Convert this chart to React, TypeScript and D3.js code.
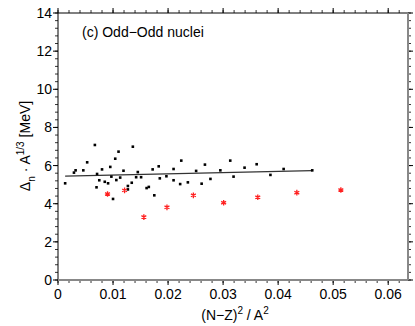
import React from 'react';
import { scaleLinear, range, symbol, symbolAsterisk } from 'd3';

// black points: (N-Z)^2/A^2 vs Delta_n * A^(1/3)
const blackX = [0.0013, 0.0029, 0.0032, 0.0046, 0.0053, 0.0067, 0.0071, 0.0070, 0.0075, 0.0080,
    0.0085, 0.0091, 0.0095, 0.0097, 0.0100, 0.0104, 0.0110, 0.0106, 0.0113, 0.0119,
    0.0127, 0.0127, 0.0134, 0.0136, 0.0142, 0.0145, 0.0151, 0.0161, 0.0165, 0.0172,
    0.0175, 0.0183, 0.0185, 0.0197, 0.0210, 0.0210, 0.0222, 0.0224, 0.0236, 0.0251,
    0.0261, 0.0267, 0.0277, 0.0295, 0.0313, 0.0319, 0.0339, 0.0361, 0.0386, 0.0410, 0.0462];
const blackY = [5.07, 5.63, 5.75, 5.75, 6.17, 7.08, 5.56, 4.86, 5.23, 5.80,
    5.15, 5.07, 5.93, 5.42, 4.25, 6.36, 6.73, 5.24, 5.37, 5.73,
    4.93, 4.75, 5.10, 6.99, 5.39, 5.66, 5.39, 4.82, 4.88, 5.80,
    4.44, 5.96, 5.33, 5.44, 5.82, 5.23, 5.03, 6.26, 5.12, 5.72,
    5.05, 6.05, 5.30, 5.75, 6.26, 5.42, 5.89, 6.07, 5.51, 5.82, 5.75];

// red asterisks
const redX = [0.0090, 0.0121, 0.0156, 0.0198, 0.0246, 0.0301, 0.0363, 0.0434, 0.0514];
const redY = [4.51, 4.70, 3.30, 3.81, 4.44, 4.05, 4.34, 4.58, 4.72];

// fitted line
const fitX = [0.0013, 0.0462];
const fitY = [5.45, 5.73];

const xTicks = [0, 0.01, 0.02, 0.03, 0.04, 0.05, 0.06];
const yTicks = [0, 2, 4, 6, 8, 10, 12, 14];

const W = 415, H = 326;
const m = { left: 58, right: 7, top: 13, bottom: 46 };
const font = 'Liberation Sans, Arial, Helvetica, sans-serif';

export default function App() {
    const x = scaleLinear().domain([0, 0.0636]).range([m.left, W - m.right]);
    const y = scaleLinear().domain([0, 14]).range([H - m.bottom, m.top]);
    const [x0, x1] = x.range();
    const [y0, y1] = y.range();

    const xMinor = range(0, 0.0637, 0.002);
    const yMinor = range(0, 14.01, 0.4);
    const star = symbol(symbolAsterisk, 22)();

    return (
        <svg width={W} height={H} style={{ position: 'absolute', left: 0, top: 0 }} fontFamily={font}>
            <rect x={0} y={0} width={W} height={H} fill="white" />

            {/* minor ticks */}
            {xMinor.map((t, i) => (
                <g key={'xm' + i}>
                    <line x1={x(t)} x2={x(t)} y1={y0} y2={y0 + 3} stroke="#000" strokeWidth={0.8} />
                    <line x1={x(t)} x2={x(t)} y1={y1} y2={y1 - 3} stroke="#000" strokeWidth={0.8} />
                </g>
            ))}
            {yMinor.map((t, i) => (
                <g key={'ym' + i}>
                    <line x1={x0} x2={x0 - 3} y1={y(t)} y2={y(t)} stroke="#000" strokeWidth={0.8} />
                    <line x1={x1} x2={x1 + 3} y1={y(t)} y2={y(t)} stroke="#000" strokeWidth={0.8} />
                </g>
            ))}
            {/* major ticks + labels */}
            {xTicks.map(t => (
                <g key={'x' + t}>
                    <line x1={x(t)} x2={x(t)} y1={y0} y2={y0 + 5} stroke="#000" />
                    <line x1={x(t)} x2={x(t)} y1={y1} y2={y1 - 5} stroke="#000" />
                    <text x={x(t)} y={y0 + 19} textAnchor="middle" fontSize={14}>{t === 0 ? '0' : t.toFixed(2)}</text>
                </g>
            ))}
            {yTicks.map(t => (
                <g key={'y' + t}>
                    <line x1={x0} x2={x0 - 5} y1={y(t)} y2={y(t)} stroke="#000" />
                    <line x1={x1} x2={x1 + 5} y1={y(t)} y2={y(t)} stroke="#000" />
                    <text x={x0 - 6} y={y(t) + 5} textAnchor="end" fontSize={14}>{t}</text>
                </g>
            ))}

            {/* frame */}
            <line x1={x0} x2={x1} y1={y1} y2={y1} stroke="#000" strokeWidth={1} />
            <line x1={x0} x2={x0} y1={y0} y2={y1} stroke="#000" strokeWidth={1} />
            <line x1={x0} x2={x1} y1={y0} y2={y0} stroke="#888" strokeWidth={2} />
            <line x1={x1} x2={x1} y1={y0} y2={y1} stroke="#888" strokeWidth={2} />

            {/* fit line */}
            <line x1={x(fitX[0])} y1={y(fitY[0])} x2={x(fitX[1])} y2={y(fitY[1])} stroke="#333" strokeWidth={1.2} />

            {/* data */}
            {blackX.map((v, i) => (
                <rect key={'b' + i} x={x(v) - 1.3} y={y(blackY[i]) - 1.3} width={2.6} height={2.6} fill="#000" />
            ))}
            {redX.map((v, i) => (
                <path key={'r' + i} d={star} transform={`translate(${x(v)},${y(redY[i])})`}
                    stroke="#ff2020" strokeWidth={1.3} fill="none" />
            ))}

            {/* title */}
            <text x={82} y={37} fontSize={14}>(c) Odd−Odd nuclei</text>

            {/* axis labels */}
            <text x={(x0 + x1) / 2 + 2} y={320} textAnchor="middle" fontSize={14}>
                (N−Z)<tspan dy={-6} fontSize={10}>2</tspan><tspan dy={6}> / A</tspan><tspan dy={-6} fontSize={10}>2</tspan>
            </text>
            <text transform={`translate(30,146) rotate(-90)`} textAnchor="middle" fontSize={14}>
                Δ<tspan dy={5} fontSize={10}>n</tspan><tspan dy={-5}> · A</tspan><tspan dy={-6} fontSize={10}>1/3</tspan><tspan dy={6}> [MeV]</tspan>
            </text>
        </svg>
    );
}
